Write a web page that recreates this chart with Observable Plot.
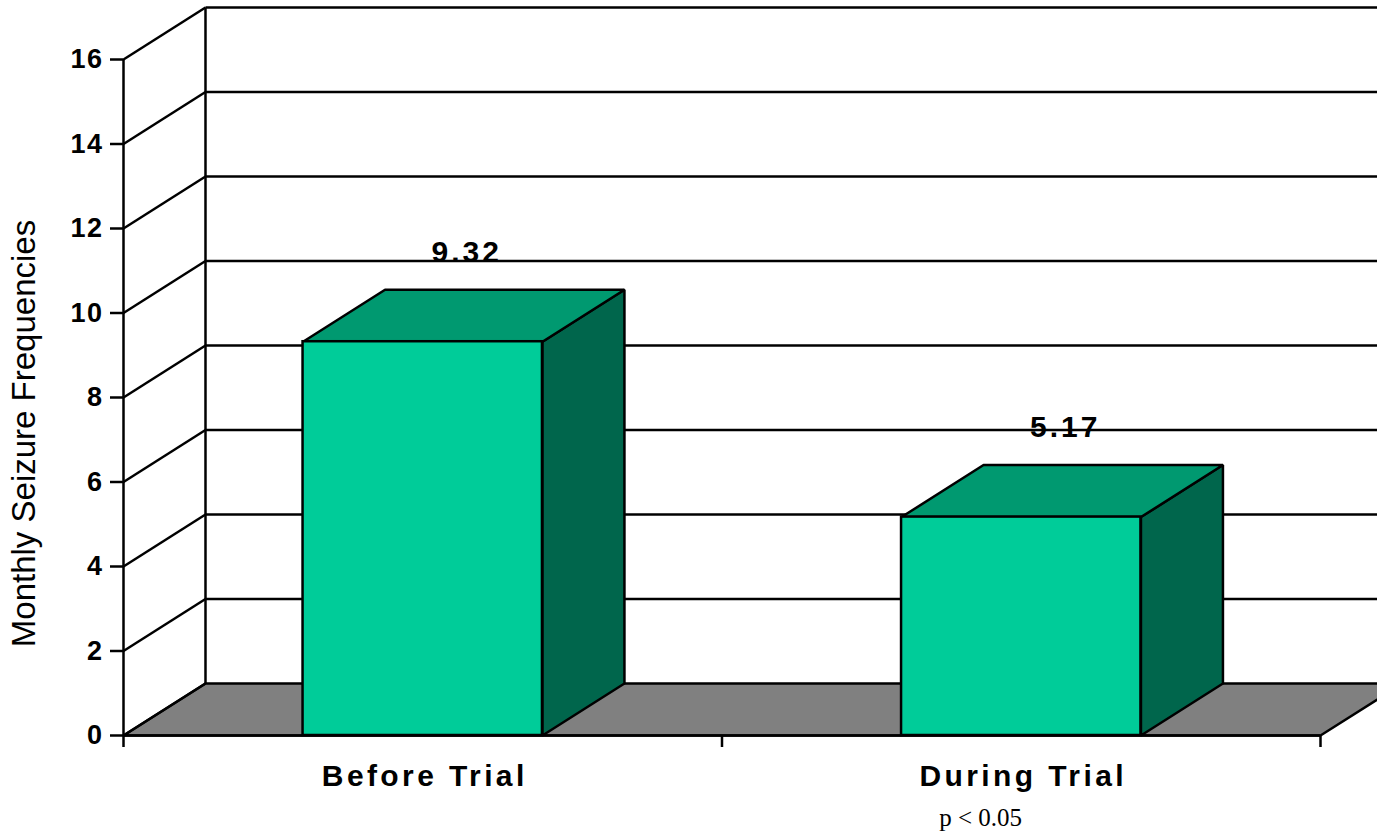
<!DOCTYPE html>
<html>
<head>
<meta charset="utf-8">
<script src="https://cdn.jsdelivr.net/npm/d3@7"></script>
<script src="https://cdn.jsdelivr.net/npm/@observablehq/plot@0.6"></script>
<style>
  html, body { margin: 0; padding: 0; background: #fff; overflow: hidden; }
  #chart svg { display: block; }
</style>
</head>
<body>
<div id="chart"></div>
<script>
// ---- data ----
const categories = ["Before Trial", "During Trial"];
const values = [9.32, 5.17];
const yTicks = [0, 2, 4, 6, 8, 10, 12, 14, 16];
const xTicks = [0, 1, 2];
const yTitle = "Monthly Seizure Frequencies";
const note = "p < 0.05";

// ---- 3D geometry (in data units) ----
const DX = 0.137;   // depth offset along x
const DY = 1.231;   // depth offset along y
const HALF = 0.2;   // half bar width
const yMax = 16;
const xMax = 2;

const bars = categories.map((c, i) => ({
  cat: c, v: values[i], x0: i + 0.5 - HALF, x1: i + 0.5 + HALF, xc: i + 0.5
}));

const floor = [
  {id: "floor", x: 0, y: 0}, {id: "floor", x: xMax, y: 0},
  {id: "floor", x: xMax + DX, y: DY}, {id: "floor", x: DX, y: DY}
];
const tops = bars.flatMap(b => [
  {id: b.cat, x: b.x0, y: b.v}, {id: b.cat, x: b.x1, y: b.v},
  {id: b.cat, x: b.x1 + DX, y: b.v + DY}, {id: b.cat, x: b.x0 + DX, y: b.v + DY}
]);
const sides = bars.flatMap(b => [
  {id: b.cat, x: b.x1, y: 0}, {id: b.cat, x: b.x1 + DX, y: DY},
  {id: b.cat, x: b.x1 + DX, y: b.v + DY}, {id: b.cat, x: b.x1, y: b.v}
]);
const wallDiagonals = yTicks.map(t => ({t}));

const plot = Plot.plot({
  width: 1377,
  height: 836,
  marginLeft: 123,
  marginRight: 57,
  marginTop: 59,
  marginBottom: 101,
  style: {fontFamily: "'Liberation Sans', Arial, sans-serif", overflow: "hidden", background: "white"},
  x: {type: "linear", domain: [0, xMax], axis: null},
  y: {type: "linear", domain: [0, yMax], axis: null},
  marks: [
    // floor
    Plot.line(floor, {x: "x", y: "y", z: "id", curve: "linear-closed", fill: "#808080", stroke: "black", strokeWidth: 2.5, strokeLinejoin: "miter"}),
    // back wall gridlines
    Plot.link(yTicks.filter(t => t > 0), {x1: DX, x2: xMax + DX, y1: t => t + DY, y2: t => t + DY, stroke: "black", strokeWidth: 2.5}),
    // back wall left edge
    Plot.link([0], {x1: DX, x2: DX, y1: DY, y2: yMax + DY, stroke: "black", strokeWidth: 2.5}),
    // side wall diagonals
    Plot.link(wallDiagonals, {x1: 0, x2: DX, y1: d => d.t, y2: d => d.t + DY, stroke: "black", strokeWidth: 2.5}),
    // bars: side, top, front
    Plot.line(sides, {x: "x", y: "y", z: "id", curve: "linear-closed", fill: "#00664C", stroke: "black", strokeWidth: 2.5, strokeLinejoin: "miter"}),
    Plot.line(tops, {x: "x", y: "y", z: "id", curve: "linear-closed", fill: "#009970", stroke: "black", strokeWidth: 2.5, strokeLinejoin: "miter"}),
    Plot.rectY(bars, {x1: "x0", x2: "x1", y1: 0, y2: "v", fill: "#00CC99", stroke: "black", strokeWidth: 2.5, inset: 0}),
    // axes
    Plot.ruleX([0], {y1: 0, y2: yMax, stroke: "black", strokeWidth: 2.5}),
    Plot.ruleY([0], {x1: 0, x2: xMax, stroke: "black", strokeWidth: 2.5}),
    Plot.axisY(yTicks, {tickSize: 13, tickPadding: 7, fontSize: 27, fontWeight: "bold", strokeWidth: 2.5, label: null}),
    Plot.axisX(xTicks, {tickSize: 12, tickFormat: () => "", strokeWidth: 2.5, label: null}),
    // category labels
    Plot.text(bars, {x: "xc", y: 0, text: "cat", dy: 50, dx: 2, lineAnchor: "bottom", fontSize: 30, fontWeight: "bold", fill: "black"}),
    // value labels
    Plot.text(bars, {x: d => d.xc + DX / 2, y: d => d.v + DY, text: d => d.v.toFixed(2), dx: 3, dy: -28, lineAnchor: "bottom", fontSize: 30, fontWeight: "bold", fill: "black"}),
    // y title
    Plot.text([yTitle], {frameAnchor: "left", dx: -89, dy: 36, rotate: -90, text: d => d, textAnchor: "middle", lineAnchor: "bottom", fontSize: 33, fill: "black"}),
    // note
    Plot.text([note], {x: 1.432, y: 0, dy: 90, text: d => d, lineAnchor: "bottom", fontSize: 25, fontFamily: "'Liberation Serif', 'Times New Roman', serif", fill: "black"})
  ]
});

const catSet = new Set(categories);
const valSet = new Set(values.map(v => v.toFixed(2)));
const tickSet = new Set(yTicks.map(String));
d3.select(plot).selectAll("text").each(function() {
  const t = this.textContent;
  if (catSet.has(t)) this.style.letterSpacing = "3.4px";
  else if (valSet.has(t)) this.style.letterSpacing = "3px";
  else if (tickSet.has(t)) this.style.letterSpacing = "1.5px";
});

document.getElementById("chart").appendChild(plot);
</script>
</body>
</html>
